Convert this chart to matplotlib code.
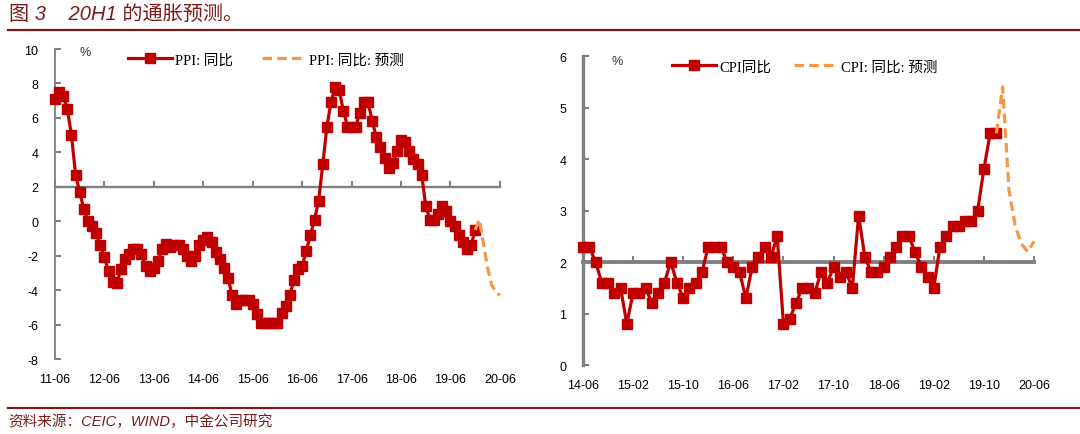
import matplotlib
matplotlib.use('Agg')
import matplotlib.pyplot as plt
from matplotlib.lines import Line2D
import numpy as np

plt.rcParams['axes.unicode_minus'] = False

# PPI yoy, 2011-06 .. 2019-12
ppi_actual = [7.1, 7.5, 7.3, 6.5, 5.0, 2.7, 1.7,
              0.7, 0.0, -0.3, -0.7, -1.4, -2.1, -2.9, -3.5, -3.6, -2.8, -2.2, -1.9,
              -1.6, -1.6, -1.9, -2.6, -2.9, -2.7, -2.3, -1.6, -1.3, -1.5, -1.4, -1.4,
              -1.6, -2.0, -2.3, -2.0, -1.4, -1.1, -0.9, -1.2, -1.8, -2.2, -2.7, -3.3,
              -4.3, -4.8, -4.6, -4.6, -4.6, -4.8, -5.4, -5.9, -5.9, -5.9, -5.9, -5.9,
              -5.3, -4.9, -4.3, -3.4, -2.8, -2.6, -1.7, -0.8, 0.1, 1.2, 3.3, 5.5,
              6.9, 7.8, 7.6, 6.4, 5.5, 5.5, 5.5, 6.3, 6.9, 6.9, 5.8, 4.9,
              4.3, 3.7, 3.1, 3.4, 4.1, 4.7, 4.6, 4.1, 3.6, 3.3, 2.7, 0.9,
              0.1, 0.1, 0.4, 0.9, 0.6, 0.0, -0.3, -0.8, -1.2, -1.6, -1.4, -0.5]
# forecast 2019-12 .. 2020-06
ppi_forecast = [-0.5, 0.1, -1.3, -2.7, -3.7, -4.1, -4.3]
ppi_ticklabels = ['11-06', '12-06', '13-06', '14-06', '15-06', '16-06',
                  '17-06', '18-06', '19-06', '20-06']

# CPI yoy, 2014-06 .. 2019-12
cpi_actual = [2.3, 2.3, 2.0, 1.6, 1.6, 1.4, 1.5,
              0.8, 1.4, 1.4, 1.5, 1.2, 1.4, 1.6, 2.0, 1.6, 1.3, 1.5, 1.6,
              1.8, 2.3, 2.3, 2.3, 2.0, 1.9, 1.8, 1.3, 1.9, 2.1, 2.3, 2.1,
              2.5, 0.8, 0.9, 1.2, 1.5, 1.5, 1.4, 1.8, 1.6, 1.9, 1.7, 1.8,
              1.5, 2.9, 2.1, 1.8, 1.8, 1.9, 2.1, 2.3, 2.5, 2.5, 2.2, 1.9,
              1.7, 1.5, 2.3, 2.5, 2.7, 2.7, 2.8, 2.8, 3.0, 3.8, 4.5, 4.5]
cpi_forecast = [4.5, 5.4, 3.4, 2.7, 2.35, 2.2, 2.4]
cpi_ticklabels = ['14-06', '15-02', '15-10', '16-06', '17-02', '17-10',
                  '18-06', '19-02', '19-10', '20-06']

RED = '#C00000'
ORANGE = '#F79646'
GREY = '#808080'
MAROON = '#7a1c1c'
TICK_FONT = ['Liberation Sans', 'DejaVu Sans']
LEG_FONT = ['Liberation Serif', 'Noto Sans CJK SC']


def draw_panel(ax, actual, forecast, ticklabels, step, ylim, yticks,
               labels, spine_w, leg_x, colsp):
    x_act = np.arange(len(actual))
    x_fc = np.arange(len(actual) - 1, len(actual) - 1 + len(forecast))
    ax.plot(x_act, actual, color=RED, lw=2.3, marker='s', ms=6.8,
            label=labels[0], clip_on=False, zorder=3)
    ax.plot(x_fc, forecast, color=ORANGE, lw=2.3, ls=(0, (3, 1.6)),
            label=labels[1], clip_on=False, zorder=4)

    nmonths = step * (len(ticklabels) - 1)
    ticks = np.arange(0, nmonths + 1, step)
    ax.set_xlim(0, nmonths)
    ax.set_ylim(*ylim)
    ax.set_yticks(yticks)
    ax.set_yticklabels([str(v) for v in yticks], family=TICK_FONT, fontsize=9)

    for s in ['top', 'right']:
        ax.spines[s].set_visible(False)
    ax.spines['left'].set_color(GREY)
    ax.spines['left'].set_linewidth(spine_w)
    ax.spines['bottom'].set_position(('data', 2))
    ax.spines['bottom'].set_color(GREY)
    ax.spines['bottom'].set_linewidth(spine_w + 0.4)
    ax.set_xticks(ticks)
    ax.tick_params(axis='x', direction='in', length=4, width=1.5,
                   color=GREY, labelbottom=False)
    ax.tick_params(axis='y', direction='in', length=4, width=1.5,
                   color=GREY, pad=12)

    sec = ax.secondary_xaxis('bottom')
    sec.set_xticks(ticks)
    sec.set_xticklabels(ticklabels, family=TICK_FONT, fontsize=9)
    sec.spines['bottom'].set_visible(False)
    sec.tick_params(length=0, pad=10)

    ax.legend(loc='center left', bbox_to_anchor=(leg_x, 0.965), ncol=2,
              frameon=False, borderaxespad=0, borderpad=0, handlelength=3.0,
              handletextpad=0.2, columnspacing=colsp,
              prop={'family': LEG_FONT, 'size': 10.5})


fig = plt.figure(figsize=(10.8, 4.35), dpi=100)
ax1 = fig.add_axes([0.0509, 0.1724, 0.412, 0.7126])
ax2 = fig.add_axes([0.5398, 0.1586, 0.4176, 0.7103])

draw_panel(ax1, ppi_actual, ppi_forecast, ppi_ticklabels, 12, (-8, 10),
           list(range(-8, 11, 2)), ['PPI: 同比', 'PPI: 同比: 预测'], 1.3, 0.165, 2.0)
draw_panel(ax2, cpi_actual, cpi_forecast, cpi_ticklabels, 8, (0, 6),
           list(range(0, 7)), ['CPI同比', 'CPI: 同比: 预测'], 2.4, 0.198, 1.6)

ax1.text(0.067, 0.99, '%', transform=ax1.transAxes, fontsize=9,
         family=TICK_FONT, ha='center', va='center', color='#333333')
ax2.text(0.075, 0.984, '%', transform=ax2.transAxes, fontsize=9,
         family=TICK_FONT, ha='center', va='center', color='#333333')

fig.text(0.008, 0.966, '图 3    20H1 的通胀预测。', fontsize=14.5, style='italic',
         family=['Liberation Sans', 'Noto Sans CJK SC'], color=MAROON,
         ha='left', va='center')
fig.add_artist(Line2D([0.007, 1.0], [0.929, 0.929], color=MAROON, lw=1.6,
                      transform=fig.transFigure))
fig.add_artist(Line2D([0.007, 1.0], [0.06, 0.06], color=MAROON, lw=1.6,
                      transform=fig.transFigure))
fig.text(0.008, 0.031, '资料来源：CEIC，WIND，中金公司研究', fontsize=10.5,
         style='italic', family=['Liberation Sans', 'Noto Sans CJK SC'],
         color=MAROON, ha='left', va='center')

fig.savefig('out.png', dpi=100)
